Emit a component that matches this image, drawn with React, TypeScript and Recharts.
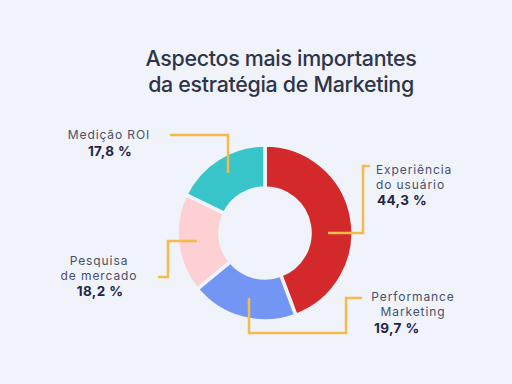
import React from 'react';
import { PieChart, Pie, Cell } from 'recharts';

const categories = ['Experiência do usuário', 'Performance Marketing', 'Pesquisa de mercado', 'Medição ROI'];
const values = [44.3, 19.7, 18.2, 17.8];
const valueLabels = ['44,3 %', '19,7 %', '18,2 %', '17,8 %'];
const nameLines = [['Experiência', 'do usuário'], ['Performance', 'Marketing'], ['Pesquisa', 'de mercado'], ['Medição ROI']];

const colors = ['#d4292b', '#7396f4', '#fdd0d4', '#38c5c9'];
const BG = '#f0f3f9';
const LINE = '#f6b94c';
const FONT = 'Inter, "Open Sans", sans-serif';

// label layout relative to pie centre
const labelLayout = [
  { path: [[63, 0], [98, 0], [98, -67], [105, -67]], nameAnchor: 'start', nameXs: [111, 111], nameYs: [-63.5, -49], valX: 112, valAnchor: 'start', valY: -33 },
  { path: [[-16, 65], [-16, 100], [81, 100], [81, 65], [97, 65]], nameAnchor: 'middle', nameXs: [148, 148], nameYs: [63.5, 78], valX: 109, valAnchor: 'start', valY: 95 },
  { path: [[-68, 8], [-97, 8], [-97, 44], [-107, 44]], nameAnchor: 'middle', nameXs: [-166, -166], nameYs: [27.5, 42], valX: -165, valAnchor: 'middle', valY: 58 },
  { path: [[-37, -60], [-37, -98], [-95, -98]], nameAnchor: 'middle', nameXs: [-156], nameYs: [-99], valX: -155, valAnchor: 'middle', valY: -82 },
];

const data = categories.map((name, i) => ({ name, value: values[i] }));

const renderLabel = (props: any) => {
  const { cx, cy, index } = props;
  const L = labelLayout[index];
  const d = L.path.map((p, i) => `${i === 0 ? 'M' : 'L'}${cx + p[0]},${cy + p[1]}`).join(' ');
  return (
    <g>
      <path d={d} fill="none" stroke={LINE} strokeWidth={2.5} />
      {nameLines[index].map((t, i) => (
        <text key={i} x={cx + L.nameXs[i]} y={cy + L.nameYs[i]} textAnchor={L.nameAnchor as any} dominantBaseline="central"
          fontFamily={FONT} fontSize={12} fill="#4a5069" letterSpacing={0.9}>{t}</text>
      ))}
      <text x={cx + L.valX} y={cy + L.valY} textAnchor={L.valAnchor as any} dominantBaseline="central"
        fontFamily={FONT} fontSize={13.5} fontWeight={700} fill="#1f2548" letterSpacing={0.4}>{valueLabels[index]}</text>
    </g>
  );
};

export default function App() {
  return (
    <div style={{ position: 'fixed', left: 0, top: 0, width: 512, height: 384, background: BG, overflow: 'hidden' }}>
      <div style={{ position: 'absolute', left: 0, width: 562, top: 45, textAlign: 'center', fontFamily: FONT, fontSize: 21.4, fontWeight: 500, color: '#2e3449', lineHeight: '26px', letterSpacing: -0.3 }}>
        Aspectos mais importantes<br />da estratégia de Marketing
      </div>
      <div style={{ position: 'absolute', left: 0, top: 0 }}>
        <PieChart width={512} height={384} margin={{ top: 0, right: 0, bottom: 0, left: 0 }}>
          <Pie data={data} dataKey="value" nameKey="name" cx={265} cy={233} innerRadius={45} outerRadius={88}
            startAngle={90} endAngle={-270} stroke={BG} strokeWidth={3.5} isAnimationActive={false}
            labelLine={false} label={renderLabel}>
            {data.map((_, i) => <Cell key={i} fill={colors[i]} />)}
          </Pie>
        </PieChart>
      </div>
    </div>
  );
}
